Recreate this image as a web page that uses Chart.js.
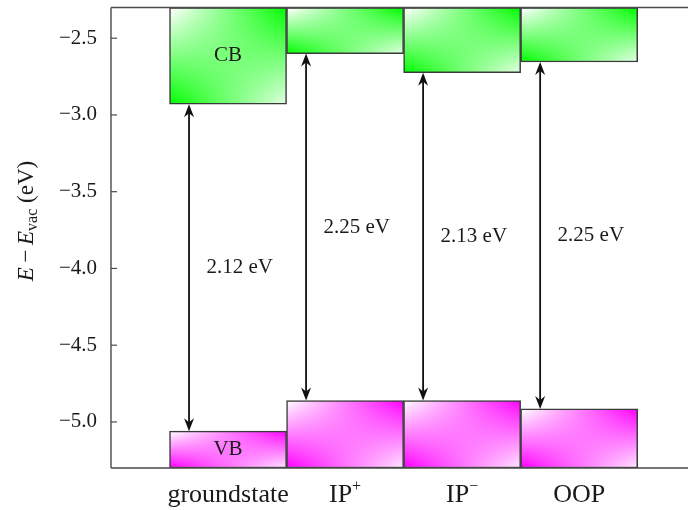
<!DOCTYPE html>
<html>
<head>
<meta charset="utf-8">
<script src="https://cdn.jsdelivr.net/npm/chart.js@4.4.1/dist/chart.umd.min.js"></script>
<style>
html,body{margin:0;padding:0;background:#fff;}
#wrap{width:688px;height:510px;}
</style>
</head>
<body>
<div id="wrap"><canvas id="c" width="688" height="510"></canvas></div>
<script>
// ---- data ----
const categories = ['groundstate', 'IP+', 'IP\u2212', 'OOP'];
const cbMin = [-2.93, -2.60, -2.725, -2.655];
const vbMax = [-5.06, -4.86, -4.86, -4.915];
const gapLabels = ['2.12 eV', '2.25 eV', '2.13 eV', '2.25 eV'];
const yTickValues = [-5.0, -4.5, -4.0, -3.5, -3.0, -2.5];
const yMin = -5.3, yMax = -2.3;
const xMin = 0, xMax = 4.93;

const SERIF = '"Liberation Serif", "DejaVu Serif", serif';
const TXT = '#1a1a1a';

const cbData = categories.map((c, i) => ({x: i + 1, y: [cbMin[i], yMax]}));
const vbData = categories.map((c, i) => ({x: i + 1, y: [yMin, vbMax[i]]}));

const cache = {};
function bilinear(w, h, rgb) {
  const W = Math.max(1, Math.round(w)), H = Math.max(1, Math.round(h));
  const key = W + 'x' + H + ':' + rgb.join(',');
  if (cache[key]) return cache[key];
  const cv = document.createElement('canvas');
  cv.width = W; cv.height = H;
  const g = cv.getContext('2d');
  const img = g.createImageData(W, H);
  for (let y = 0; y < H; y++) {
    const v = H > 1 ? y / (H - 1) : 0;
    for (let x = 0; x < W; x++) {
      const u = W > 1 ? x / (W - 1) : 0;
      const wt = (1 - u) * (1 - v) + u * v * 0.9;
      const k = (y * W + x) * 4;
      img.data[k] = rgb[0] * (1 - wt) + 255 * wt;
      img.data[k + 1] = rgb[1] * (1 - wt) + 255 * wt;
      img.data[k + 2] = rgb[2] * (1 - wt) + 255 * wt;
      img.data[k + 3] = 255;
    }
  }
  g.putImageData(img, 0, 0);
  cache[key] = cv;
  return cv;
}
function makeFill(c, rgb) {
  const ch = c.chart;
  const solid = 'rgb(' + rgb.join(',') + ')';
  if (!ch.chartArea || c.type !== 'data' || !ch.scales.x || !ch.scales.y) return solid;
  const xs = ch.scales.x, ys = ch.scales.y, r = c.raw;
  const l = xs.getPixelForValue(r.x - 0.5), rt = xs.getPixelForValue(r.x + 0.5);
  const t = ys.getPixelForValue(r.y[1]), b = ys.getPixelForValue(r.y[0]);
  const cv = bilinear(rt - l, b - t, rgb);
  const p = ch.ctx.createPattern(cv, 'no-repeat');
  p.setTransform(new DOMMatrix([1, 0, 0, 1, Math.round(l), Math.round(t)]));
  return p;
}

function drawArrowHead(ctx, x, y, dir) {
  const L = 13, W = 5, N = 9;
  ctx.beginPath();
  ctx.moveTo(x, y);
  ctx.lineTo(x - W, y - dir * L);
  ctx.lineTo(x, y - dir * N);
  ctx.lineTo(x + W, y - dir * L);
  ctx.closePath();
  ctx.fill();
}

const overlay = {
  id: 'overlay',
  afterDatasetsDraw(chart) {
    const ctx = chart.ctx, xs = chart.scales.x, ys = chart.scales.y;
    ctx.save();
    ctx.strokeStyle = '#111'; ctx.fillStyle = '#111'; ctx.lineWidth = 1.8;
    categories.forEach((c, i) => {
      const x = xs.getPixelForValue(i + 1 - 1 / 3);
      const yTop = ys.getPixelForValue(cbMin[i]);
      const yBot = ys.getPixelForValue(vbMax[i]);
      ctx.beginPath();
      ctx.moveTo(x, yTop + 6); ctx.lineTo(x, yBot - 6); ctx.stroke();
      drawArrowHead(ctx, x, yTop, -1);
      drawArrowHead(ctx, x, yBot, 1);
    });
    ctx.fillStyle = TXT;
    ctx.font = '21px ' + SERIF;
    ctx.textAlign = 'center'; ctx.textBaseline = 'middle';
    categories.forEach((c, i) => {
      const x = xs.getPixelForValue(i + 1 + 0.1);
      const y = ys.getPixelForValue((cbMin[i] + vbMax[i]) / 2);
      ctx.fillText(gapLabels[i], x, y);
    });
    ctx.fillText('CB', xs.getPixelForValue(1), ys.getPixelForValue((cbMin[0] + yMax) / 2));
    ctx.fillText('VB', xs.getPixelForValue(1), ys.getPixelForValue((vbMax[0] + yMin) / 2));
    ctx.restore();
  },
  afterDraw(chart) {
    const ctx = chart.ctx, xs = chart.scales.x, ys = chart.scales.y, a = chart.chartArea;
    ctx.save();
    ctx.strokeStyle = '#4a4a4a'; ctx.lineWidth = 1.4;
    ctx.beginPath();
    ctx.moveTo(a.left, a.top); ctx.lineTo(chart.width, a.top);
    ctx.moveTo(a.left, a.bottom); ctx.lineTo(chart.width, a.bottom);
    ctx.moveTo(a.left, a.top); ctx.lineTo(a.left, a.bottom);
    ctx.stroke();
    ctx.lineWidth = 1.2;
    ys.ticks.forEach(t => {
      const y = ys.getPixelForValue(t.value);
      ctx.beginPath(); ctx.moveTo(a.left, y); ctx.lineTo(a.left + 6, y); ctx.stroke();
    });
    ctx.fillStyle = TXT;
    ctx.textBaseline = 'alphabetic'; ctx.textAlign = 'left';
    categories.forEach((c, i) => {
      let base = c, sup = '';
      const last = c.slice(-1);
      if (last === '+' || last === '\u2212') { base = c.slice(0, -1); sup = last; }
      ctx.font = '26px ' + SERIF;
      const wb = ctx.measureText(base).width;
      ctx.font = '16px ' + SERIF;
      const ws = sup ? ctx.measureText(sup).width : 0;
      const x0 = xs.getPixelForValue(i + 1) - (wb + ws) / 2;
      const yb = 502;
      ctx.font = '26px ' + SERIF;
      ctx.fillText(base, x0, yb);
      if (sup) { ctx.font = '16px ' + SERIF; ctx.fillText(sup, x0 + wb, yb - 11); }
    });
    const parts = [
      {t: 'E', f: 'italic 23px ' + SERIF, dy: 0},
      {t: '\u2009\u2212\u2009', f: '23px ' + SERIF, dy: 0},
      {t: 'E', f: 'italic 23px ' + SERIF, dy: 0},
      {t: 'vac', f: '16px ' + SERIF, dy: 4},
      {t: ' (eV)', f: '23px ' + SERIF, dy: 0}
    ];
    let total = 0;
    parts.forEach(p => { ctx.font = p.f; p.w = ctx.measureText(p.t).width; total += p.w; });
    ctx.translate(33, 221);
    ctx.rotate(-Math.PI / 2);
    let x = -total / 2;
    parts.forEach(p => { ctx.font = p.f; ctx.fillText(p.t, x, p.dy); x += p.w; });
    ctx.restore();
  }
};

new Chart(document.getElementById('c'), {
  type: 'bar',
  data: {
    datasets: [
      {label: 'CB', data: cbData, grouped: false, barPercentage: 1, categoryPercentage: 1,
       backgroundColor: c => makeFill(c, [0, 255, 0]),
       borderColor: '#3a3a3a', borderWidth: 1.5, borderSkipped: false},
      {label: 'VB', data: vbData, grouped: false, barPercentage: 1, categoryPercentage: 1,
       backgroundColor: c => makeFill(c, [255, 0, 255]),
       borderColor: '#3a3a3a', borderWidth: 1.5, borderSkipped: false}
    ]
  },
  options: {
    responsive: false,
    animation: false,
    devicePixelRatio: 1,
    layout: {padding: {top: 7.5, right: 0, bottom: 0, left: 0}},
    plugins: {legend: {display: false}, tooltip: {enabled: false}},
    scales: {
      x: {
        type: 'linear', min: xMin, max: xMax, offset: false,
        grid: {display: false}, border: {display: false},
        afterBuildTicks: s => { s.ticks = categories.map((c, i) => ({value: i + 1})); },
        ticks: {display: false},
        afterFit: s => { s.height = 42; s.paddingLeft = 0; s.paddingRight = 0; }
      },
      y: {
        min: yMin, max: yMax,
        grid: {display: false, drawTicks: false}, border: {display: false},
        afterBuildTicks: s => { s.ticks = yTickValues.map(v => ({value: v})); },
        ticks: {
          padding: 14, color: TXT,
          font: {family: SERIF, size: 21},
          callback: v => (v < 0 ? '\u2212' : '') + Math.abs(v).toFixed(1)
        },
        afterFit: s => { s.width = 111; s.paddingTop = 0; s.paddingBottom = 0; }
      }
    }
  },
  plugins: [overlay]
});
</script>
</body>
</html>
